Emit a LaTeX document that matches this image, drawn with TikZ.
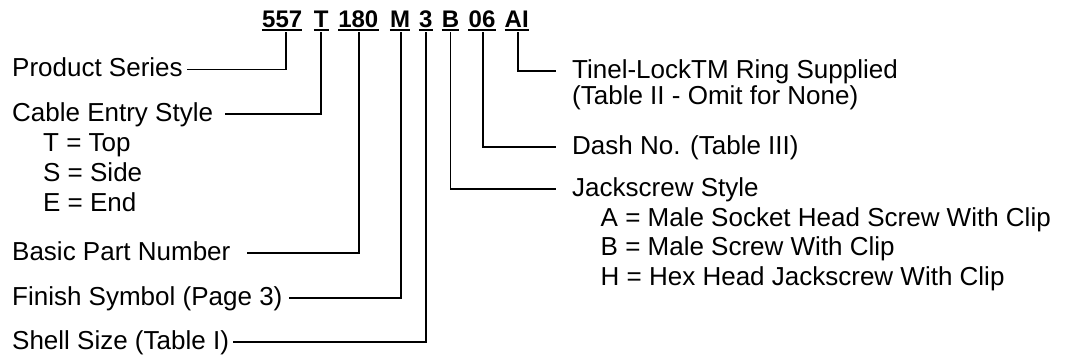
\documentclass[tikz,border=0pt]{standalone}
\usepackage{fontspec}
\setmainfont{Liberation Sans}
\begin{document}
\begin{tikzpicture}[x=1pt,y=-1pt,
  lbl/.style={anchor=base west, inner sep=0pt, font=\fontsize{26}{30}\selectfont, text height=16pt, text depth=2pt},
  code/.style={anchor=base, inner sep=0pt, font=\bfseries\fontsize{24}{28}\selectfont, text depth=0pt},
  ln/.style={line width=1.8pt},
  ul/.style={line width=1.6pt}]
\useasboundingbox (0,0) rectangle (1070,360);
% part number code
\node[code] (c557) at (282.2,27) {557};
\node[code] (cT) at (321.3,27) {T};
\node[code] (c180) at (358.3,27) {180};
\node[code] (cM) at (400,27) {M};
\node[code] (c3) at (425.7,27) {3};
\node[code] (cB) at (450.5,27) {B};
\node[code] (c06) at (482,27) {06};
\node[code] (cAI) at (516.7,27) {AI};
\foreach \n in {c557,cT,c180,cM,c3,cB,c06,cAI}
  \draw[ul] ([yshift=-3pt]\n.south west) -- ([yshift=-3pt]\n.south east);
% left labels
\node[lbl] (ps) at (12,76.5) {Product Series};
\node[lbl] (ces) at (12,121) {Cable Entry Style};
\node[lbl] (tt) at (43,151.5) {T = Top};
\node[lbl] (ss) at (43,181.5) {S = Side};
\node[lbl] (ee) at (43,211.5) {E = End};
\node[lbl] (bpn) at (12,260) {Basic Part Number};
\node[lbl] (fs) at (12,305) {Finish Symbol (Page 3)};
\node[lbl] (sh) at (12,349) {Shell Size (Table I)};
% right labels
\node[lbl] (tl) at (572,78) {Tinel-LockTM Ring Supplied};
\node[lbl] (tl2) at (572,104.5) {(Table II - Omit for None)};
\node[lbl] (dn) at (572,154) {Dash No. (Table III)};
\node[lbl] (js) at (572,196) {Jackscrew Style};
\node[lbl] (ja) at (600.5,226) {A = Male Socket Head Screw With Clip};
\node[lbl] (jb) at (600.5,255) {B = Male Screw With Clip};
\node[lbl] (jh) at (600.5,285) {H = Hex Head Jackscrew With Clip};
% connectors
\draw[ln] ([xshift=3.5pt,yshift=-5pt]c557.south) |- ([xshift=4pt]ps.east);
\draw[ln] ([yshift=-5pt]cT.south) |- ([xshift=12pt]ces.east);
\draw[ln] ([xshift=1pt,yshift=-5pt]c180.south) |- ([xshift=16pt]bpn.east);
\draw[ln] ([xshift=1pt,yshift=-5pt]cM.south) |- ([xshift=6pt]fs.east);
\draw[ln] ([yshift=-5pt]c3.south) |- ([xshift=3.5pt]sh.east);
\draw[ln] ([yshift=-5pt]cB.south) |- ([xshift=-16pt]js.west);
\draw[ln] ([xshift=1pt,yshift=-5pt]c06.south) |- ([xshift=-16pt]dn.west);
\draw[ln] ([xshift=1pt,yshift=-5pt]cAI.south) |- ([xshift=-16pt]tl.west);
\end{tikzpicture}
\end{document}
